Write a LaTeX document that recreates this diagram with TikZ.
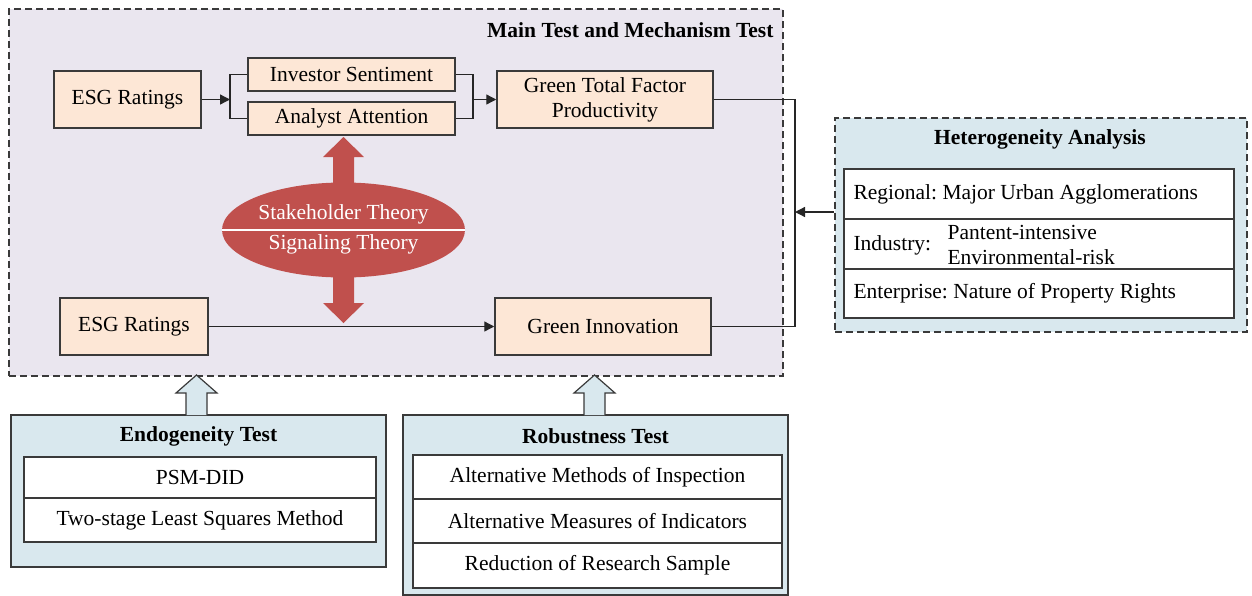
\documentclass[tikz,border=0pt]{standalone}
\usepackage{fontspec}
\setmainfont{Liberation Serif}
\usetikzlibrary{arrows.meta,shapes.geometric}
\frenchspacing
\definecolor{mainfill}{HTML}{EAE6EF}
\definecolor{peach}{HTML}{FDE7D6}
\definecolor{redc}{HTML}{C0504D}
\definecolor{lblue}{HTML}{D9E8EE}
\definecolor{edge}{HTML}{3A3A3A}
\tikzset{
  txt/.style={font=\fontsize{21.5}{25}\selectfont},
  bold/.style={font=\fontsize{21.5}{25}\selectfont\bfseries},
  pbox/.style={draw=edge, fill=peach, line width=1.5pt, txt, inner sep=0pt, align=center},
  rowc/.style={draw=edge, fill=white, line width=1.2pt, txt, inner sep=0pt, align=center},
  rowl/.style={draw=edge, fill=white, line width=1.2pt, inner sep=0pt},
  conn/.style={draw=black!85, line width=1.3pt},
  tip/.style={-{Triangle[length=10pt,width=10pt]}},
  hollow/.style={draw=edge, fill=lblue, line width=1.2pt},
  dash8/.style={dash pattern=on 7pt off 4pt},
}
\begin{document}
\begin{tikzpicture}[x=1pt,y=-1pt]
\useasboundingbox (0,0) rectangle (1252,595);
% main container
\node[draw=edge, dash8, fill=mainfill, line width=1.3pt, minimum width=774pt, minimum height=367pt, inner sep=0pt] (main) at (396,192.5) {};
\node[bold, anchor=east] (maintitle) at (777,30) {Main Test and Mechanism Test};
% boxes
\node[pbox, minimum width=147pt, minimum height=57pt] (esg1) at (127.5,99.5) {ESG Ratings};
\node[pbox, minimum width=207pt, minimum height=33pt] (is) at (351.5,74.5) {Investor Sentiment};
\node[pbox, minimum width=207pt, minimum height=33pt] (aa) at (351.5,118.5) {Analyst Attention};
\node[pbox, minimum width=216pt, minimum height=57pt] (gtfp) at (605,99.5) {Green Total Factor\\Productivity};
\node[pbox, minimum width=148pt, minimum height=57pt] (esg2) at (134,326.5) {ESG Ratings};
\node[pbox, minimum width=216pt, minimum height=57pt] (gi) at (603,326.5) {Green Innovation};
% connectors top
\coordinate (s1) at (230,99.5);
\coordinate (s2) at (473,99.5);
\draw[conn, tip] (esg1.east) -- (s1);
\draw[conn] (is.west) -| (s1) |- (aa.west);
\draw[conn] (is.east) -| (s2) |- (aa.east);
\draw[conn, tip] (s2) -- (gtfp.west);
\draw[conn, tip] (esg2.east) -- (gi.west);
% ellipse
\node[ellipse, fill=redc, minimum width=243pt, minimum height=95pt, inner sep=0pt] (ell) at (343.5,230) {};
\draw[white, line width=1.5pt] (ell.west) -- (ell.east);
\node[txt, text=white] (st) at (343.5,214) {Stakeholder Theory};
\node[txt, text=white] (sg) at (343.5,244) {Signaling Theory};
% thick red arrows
\fill[redc] (333,186) -- (333,157) -- (323,157) -- (343.5,137) -- (364,157) -- (354,157) -- (354,186) -- cycle;
\fill[redc] (333,274) -- (333,303) -- (323,303) -- (343.5,323) -- (364,303) -- (354,303) -- (354,274) -- cycle;
% heterogeneity
\node[draw=edge, dash8, fill=lblue, line width=1.3pt, minimum width=412pt, minimum height=214pt, inner sep=0pt] (het) at (1041,225) {};
\node[bold] (hettitle) at (1040,139) {Heterogeneity Analysis};
\node[rowl, minimum width=390pt, minimum height=50pt] (h1) at (1039,194) {};
\node[rowl, minimum width=390pt, minimum height=50pt] (h2) at (1039,244) {};
\node[rowl, minimum width=390pt, minimum height=49pt] (h3) at (1039,293.5) {};
\node[txt, anchor=west] (h1t) at (850,194) {Regional: Major Urban Agglomerations};
\node[txt, anchor=west] (h2a) at (850,245) {Industry:};
\node[txt, anchor=west, align=left] (h2b) at (944,245) {Pantent-intensive\\Environmental-risk};
\node[txt, anchor=west] (h3t) at (850,293.5) {Enterprise: Nature of Property Rights};
% right loop
\coordinate (r) at (795,212);
\draw[conn] (gtfp.east) -| (r) |- (gi.east);
\draw[conn, tip] (het.west |- r) -- (r);
% endogeneity
\node[draw=edge, fill=lblue, line width=1.3pt, minimum width=375pt, minimum height=152pt, inner sep=0pt] (endo) at (198.5,491) {};
\node[bold] (endotitle) at (198.5,436) {Endogeneity Test};
\node[rowc, minimum width=352pt, minimum height=41pt] (e1) at (200,477.5) {PSM-DID};
\node[rowc, minimum width=352pt, minimum height=44pt] (e2) at (200,520) {Two-stage Least Squares Method};
% robustness
\node[draw=edge, fill=lblue, line width=1.3pt, minimum width=385pt, minimum height=180pt, inner sep=0pt] (rob) at (595.5,505) {};
\node[bold] (robtitle) at (595.5,436) {Robustness Test};
\node[rowc, minimum width=369pt, minimum height=44pt] (r1) at (597.5,477) {Alternative Methods of Inspection};
\node[rowc, minimum width=369pt, minimum height=44pt] (r2) at (597.5,521) {Alternative Measures of Indicators};
\node[rowc, minimum width=369pt, minimum height=45pt] (r3) at (597.5,565.5) {Reduction of Research Sample};
% hollow up arrows
\filldraw[hollow] (186,415) -- (186,393) -- (176,393) -- (196.5,375) -- (217,393) -- (207,393) -- (207,415);
\filldraw[hollow] (584,415) -- (584,393) -- (574,393) -- (594.5,375) -- (615,393) -- (605,393) -- (605,415);
\end{tikzpicture}
\end{document}
